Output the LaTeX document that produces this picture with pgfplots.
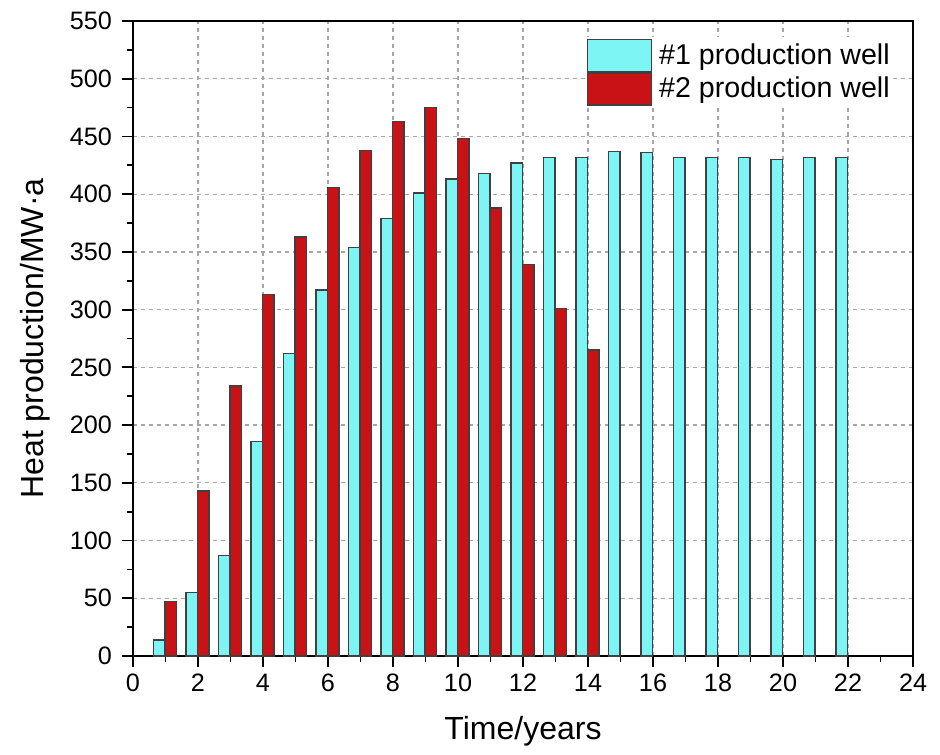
\documentclass[border=0pt]{standalone}
\usepackage{pgfplots}
\pgfplotsset{compat=1.18}
\usepackage{fontspec}
\setmainfont{Liberation Sans}
\definecolor{cyanbar}{RGB}{125,245,245}
\definecolor{redbar}{RGB}{200,18,22}
\begin{document}
\begin{tikzpicture}
\begin{axis}[
  scale only axis,
  width=390pt, height=317.5pt,
  xmin=0, xmax=24, ymin=0, ymax=550,
  xtick={0,2,...,24}, minor x tick num=1,
  ytick={0,50,...,550}, minor y tick num=1,
  xtick pos=left, ytick pos=left,
  tick align=outside,
  major tick length=5.5pt, minor tick length=3pt,
  every tick/.style={black, line width=0.9pt},
  axis line style={line width=1pt},
  grid=major,
  major grid style={gray!70, line width=0.6pt, dash pattern=on 2pt off 2pt},
  /pgf/number format/assume math mode=true,
  ticklabel style={font=\fontsize{12.6}{15}\selectfont},
  yticklabel style={xshift=-1.5pt},
  xlabel={Time/years}, ylabel={Heat production/MW·a},
  label style={font=\fontsize{16}{19}\selectfont},
  xlabel style={at={(axis description cs:0.5,-0.118)}, anchor=center},
  ylabel style={at={(axis description cs:-0.1256,0.5)}, anchor=center},
  ybar, bar width=0.35,
  legend style={at={(0.579,0.975)}, anchor=north west, draw=none, fill=white,
    font=\fontsize{14.3}{16}\selectfont, row sep=0pt, column sep=3.5pt, inner sep=1pt,
    nodes={inner sep=0pt, anchor=west}},
  legend cell align=left,
  legend image code/.code={\draw[#1, line width=0.6pt] (0pt,-8pt) rectangle (32pt,8pt);},
]
\addplot[fill=cyanbar, draw=black!75, line width=0.7pt, bar shift=-0.19] coordinates {
 (1,14) (2,55) (3,87) (4,186) (5,262) (6,317) (7,354) (8,379) (9,401) (10,413)
 (11,418) (12,427) (13,432) (14,432) (15,437) (16,436) (17,432) (18,432) (19,432)
 (20,430) (21,432) (22,432)};
\addlegendentry{\#1 production well}
\addplot[fill=redbar, draw=black!75, line width=0.7pt, bar shift=0.16] coordinates {
 (1,47) (2,143) (3,234) (4,313) (5,363) (6,406) (7,438) (8,463) (9,475) (10,448)
 (11,388) (12,339) (13,301) (14,265)};
\addlegendentry{\#2 production well}
\end{axis}
\path ([shift={(-66.5pt,-49pt)}]current axis.south west) rectangle ([shift={(13.5pt,10.5pt)}]current axis.north east);
\end{tikzpicture}
\end{document}
